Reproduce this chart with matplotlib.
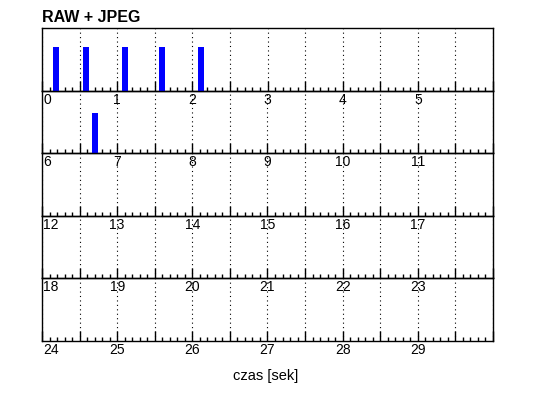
import matplotlib
matplotlib.use("Agg")
import matplotlib.pyplot as plt
import matplotlib.transforms as mtrans
import numpy as np

# shot times [s] and relative bar heights
czasy = [0.19, 0.59, 1.10, 1.59, 2.11, 6.71]
wys = [0.70, 0.70, 0.70, 0.70, 0.70, 0.65]
n_rows = 5
row_len = 6  # seconds per row

plt.rcParams['font.family'] = ['Liberation Sans', 'DejaVu Sans']

fig = plt.figure(figsize=(5.38, 3.98), dpi=100)
left, right = 42 / 538, 493 / 538
top, bottom = 1 - 28 / 398, 1 - 341 / 398
h = (top - bottom) / n_rows

for r in range(n_rows):
    t0 = r * row_len
    ax = fig.add_axes([left, top - (r + 1) * h, right - left, h])
    ax.patch.set_visible(False)
    ax.set_xlim(t0, t0 + row_len)
    ax.set_ylim(0, 1)
    # bars that fall in this row
    xs = [t for t in czasy if t0 <= t < t0 + row_len]
    hs = [w for t, w in zip(czasy, wys) if t0 <= t < t0 + row_len]
    ax.bar(xs, hs, width=0.08, color='#0000ff', zorder=3)

    major = np.arange(t0, t0 + row_len + 0.01, 0.5)
    labels = [str(int(v)) if v == int(v) and v < t0 + row_len else '' for v in major]
    ax.set_xticks(major)
    ax.set_xticklabels(labels)
    ax.set_xticks(np.arange(t0, t0 + row_len + 0.01, 0.1), minor=True)
    ax.tick_params(axis='x', which='major', direction='in', length=7, width=1,
                   pad=1.5, labelsize=10)
    ax.tick_params(axis='x', which='minor', direction='in', length=3, width=1)
    ax.tick_params(axis='y', left=False, labelleft=False)
    first = ax.get_xticklabels()[0]
    first.set_ha('left')
    first.set_transform(first.get_transform() +
                        mtrans.ScaledTranslation(1 / 100, 0, fig.dpi_scale_trans))
    ax.grid(axis='x', which='major', linestyle=(0, (1, 3)), color='k', lw=0.8)
    for s in ax.spines.values():
        s.set_color('k')
        s.set_linewidth(1)

fig.text(left, 1 - 18 / 398, 'RAW + JPEG', fontsize=11.5, fontweight='bold',
         va='center', ha='left')
fig.text(266 / 538, 1 - 376 / 398, 'czas [sek]', fontsize=10.5, va='center', ha='center')

fig.savefig('out.png', dpi=100)
